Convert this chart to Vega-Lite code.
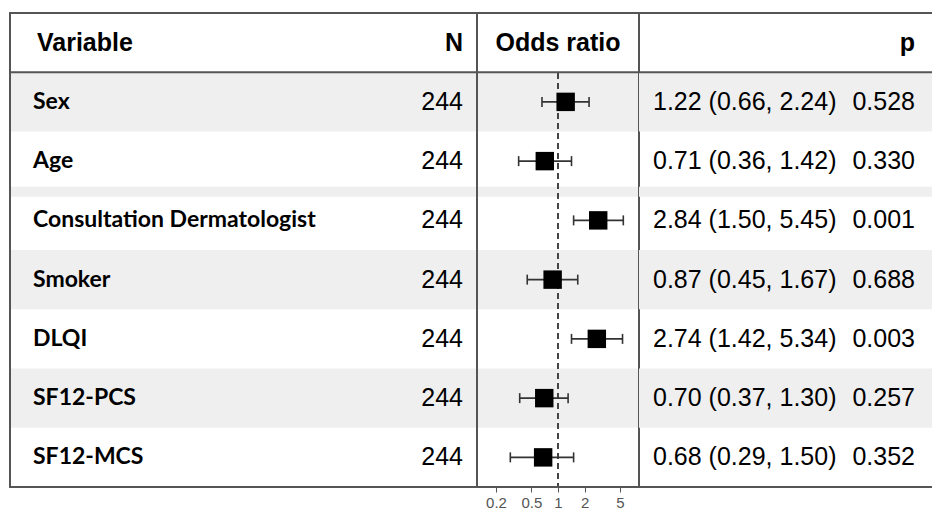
{
  "$schema": "https://vega.github.io/schema/vega-lite/v6.json",
  "padding": {"left": 9, "top": 12, "right": 0, "bottom": 0},
  "background": "white",
  "spacing": 0,
  "bounds": "flush",
  "config": {"view": {"stroke": null}},
  "data": {
    "values": [
      {"variable": "Sex", "n": 244, "or": 1.22, "lo": 0.66, "hi": 2.24, "ci": "1.22 (0.66, 2.24)", "p": "0.528"},
      {"variable": "Age", "n": 244, "or": 0.71, "lo": 0.36, "hi": 1.42, "ci": "0.71 (0.36, 1.42)", "p": "0.330"},
      {"variable": "Consultation Dermatologist", "n": 244, "or": 2.84, "lo": 1.50, "hi": 5.45, "ci": "2.84 (1.50, 5.45)", "p": "0.001"},
      {"variable": "Smoker", "n": 244, "or": 0.87, "lo": 0.45, "hi": 1.67, "ci": "0.87 (0.45, 1.67)", "p": "0.688"},
      {"variable": "DLQI", "n": 244, "or": 2.74, "lo": 1.42, "hi": 5.34, "ci": "2.74 (1.42, 5.34)", "p": "0.003"},
      {"variable": "SF12-PCS", "n": 244, "or": 0.70, "lo": 0.37, "hi": 1.30, "ci": "0.70 (0.37, 1.30)", "p": "0.257"},
      {"variable": "SF12-MCS", "n": 244, "or": 0.68, "lo": 0.29, "hi": 1.50, "ci": "0.68 (0.29, 1.50)", "p": "0.352"}
    ]
  },
  "hconcat": [
    {
      "width": 467,
      "height": 474,
      "layer": [
        {
          "transform": [{"filter": "indexof(['Sex','Smoker','SF12-PCS'], datum.variable) >= 0"}],
          "mark": {"type": "rect", "color": "#efefef"},
          "encoding": {"y": {"field": "variable", "type": "nominal", "scale": {"type": "band", "domain": ["header", "Sex", "Age", "Consultation Dermatologist", "Smoker", "DLQI", "SF12-PCS", "SF12-MCS"], "paddingInner": 0, "paddingOuter": 0}, "axis": null}}
        },
        {
          "data": {"values": [{}]},
          "mark": {"type": "rule", "color": "#efefef", "strokeWidth": 10, "yOffset": 1, "clip": true},
          "encoding": {"y": {"datum": "Consultation Dermatologist", "type": "nominal", "bandPosition": 0, "scale": {"type": "band", "domain": ["header", "Sex", "Age", "Consultation Dermatologist", "Smoker", "DLQI", "SF12-PCS", "SF12-MCS"], "paddingInner": 0, "paddingOuter": 0}, "axis": null}}
        },
        {
          "data": {"values": [{}]},
          "mark": {"type": "text", "text": "Variable", "font": "Liberation Sans", "fontWeight": "bold", "fontSize": 25, "align": "left", "baseline": "middle", "dx": 4, "color": "#000"},
          "encoding": {
            "x": {"datum": "Variable", "type": "nominal", "scale": {"type": "point", "domain": ["Variable", "N"], "padding": 0.04302, "align": 0.6216}, "axis": null},
            "y": {"datum": "header", "type": "nominal", "scale": {"type": "band", "domain": ["header", "Sex", "Age", "Consultation Dermatologist", "Smoker", "DLQI", "SF12-PCS", "SF12-MCS"], "paddingInner": 0, "paddingOuter": 0}, "axis": null}
          }
        },
        {
          "data": {"values": [{}]},
          "mark": {"type": "text", "text": "N", "font": "Liberation Sans", "fontWeight": "bold", "fontSize": 25, "align": "right", "baseline": "middle", "color": "#000"},
          "encoding": {
            "x": {"datum": "N", "type": "nominal", "scale": {"type": "point", "domain": ["Variable", "N"], "padding": 0.04302, "align": 0.6216}, "axis": null},
            "y": {"datum": "header", "type": "nominal", "scale": {"type": "band", "domain": ["header", "Sex", "Age", "Consultation Dermatologist", "Smoker", "DLQI", "SF12-PCS", "SF12-MCS"], "paddingInner": 0, "paddingOuter": 0}, "axis": null}
          }
        },
        {
          "mark": {"type": "text", "font": "Lato", "fontWeight": "bold", "fontSize": 23, "align": "left", "baseline": "middle", "color": "#000"},
          "encoding": {
            "x": {"datum": "Variable", "type": "nominal", "scale": {"type": "point", "domain": ["Variable", "N"], "padding": 0.04302, "align": 0.6216}, "axis": null},
            "y": {"field": "variable", "type": "nominal", "scale": {"type": "band", "domain": ["header", "Sex", "Age", "Consultation Dermatologist", "Smoker", "DLQI", "SF12-PCS", "SF12-MCS"], "paddingInner": 0, "paddingOuter": 0}, "axis": null},
            "text": {"field": "variable"}
          }
        },
        {
          "mark": {"type": "text", "font": "Liberation Sans", "fontSize": 25, "align": "right", "baseline": "middle", "color": "#000"},
          "encoding": {
            "x": {"datum": "N", "type": "nominal", "scale": {"type": "point", "domain": ["Variable", "N"], "padding": 0.04302, "align": 0.6216}, "axis": null},
            "y": {"field": "variable", "type": "nominal", "scale": {"type": "band", "domain": ["header", "Sex", "Age", "Consultation Dermatologist", "Smoker", "DLQI", "SF12-PCS", "SF12-MCS"], "paddingInner": 0, "paddingOuter": 0}, "axis": null},
            "text": {"field": "n"}
          }
        },
        {
          "data": {"values": [{}]},
          "mark": {"type": "rule", "color": "#555", "strokeWidth": 2},
          "encoding": {"y": {"datum": "Sex", "type": "nominal", "bandPosition": 0, "scale": {"type": "band", "domain": ["header", "Sex", "Age", "Consultation Dermatologist", "Smoker", "DLQI", "SF12-PCS", "SF12-MCS"], "paddingInner": 0, "paddingOuter": 0}, "axis": null}}
        },
        {
          "data": {"values": [{}]},
          "mark": {"type": "rect", "fill": "white", "fillOpacity": 0, "stroke": "#555", "strokeWidth": 2},
          "encoding": {}
        }
      ]
    },
    {
      "width": 162,
      "height": 474,
      "layer": [
        {
          "transform": [{"filter": "indexof(['Sex','Smoker','SF12-PCS'], datum.variable) >= 0"}],
          "mark": {"type": "rect", "color": "#efefef"},
          "encoding": {"y": {"field": "variable", "type": "nominal", "scale": {"type": "band", "domain": ["header", "Sex", "Age", "Consultation Dermatologist", "Smoker", "DLQI", "SF12-PCS", "SF12-MCS"], "paddingInner": 0, "paddingOuter": 0}, "axis": null}}
        },
        {
          "data": {"values": [{}]},
          "mark": {"type": "rule", "color": "#efefef", "strokeWidth": 10, "yOffset": 1, "clip": true},
          "encoding": {"y": {"datum": "Consultation Dermatologist", "type": "nominal", "bandPosition": 0, "scale": {"type": "band", "domain": ["header", "Sex", "Age", "Consultation Dermatologist", "Smoker", "DLQI", "SF12-PCS", "SF12-MCS"], "paddingInner": 0, "paddingOuter": 0}, "axis": null}}
        },
        {
          "data": {"values": [{}]},
          "mark": {"type": "rule", "color": "#444", "strokeWidth": 2, "strokeDash": [6, 4]},
          "encoding": {"x": {"datum": 1, "type": "quantitative", "scale": {"type": "log", "domain": [0.1221, 8.19], "nice": false}, "axis": {"values": [0.2, 0.5, 1, 2, 5], "format": "~g", "domain": false, "grid": false, "ticks": true, "tickSize": 5, "tickWidth": 1, "tickColor": "#555", "labelFont": "Liberation Sans", "labelFontSize": 15, "labelColor": "#555", "labelPadding": 3, "title": null}}}
        },
        {
          "data": {"values": [{}]},
          "mark": {"type": "rect", "color": "white"},
          "encoding": {"y": {"datum": "header", "type": "nominal", "scale": {"type": "band", "domain": ["header", "Sex", "Age", "Consultation Dermatologist", "Smoker", "DLQI", "SF12-PCS", "SF12-MCS"], "paddingInner": 0, "paddingOuter": 0}, "axis": null}}
        },
        {
          "data": {"values": [{}]},
          "mark": {"type": "text", "text": "Odds ratio", "font": "Liberation Sans", "fontWeight": "bold", "fontSize": 25, "align": "center", "baseline": "middle", "color": "#000"},
          "encoding": {
            "x": {"datum": 1, "type": "quantitative", "scale": {"type": "log", "domain": [0.1221, 8.19], "nice": false}},
            "y": {"datum": "header", "type": "nominal", "scale": {"type": "band", "domain": ["header", "Sex", "Age", "Consultation Dermatologist", "Smoker", "DLQI", "SF12-PCS", "SF12-MCS"], "paddingInner": 0, "paddingOuter": 0}, "axis": null}
          }
        },
        {
          "mark": {"type": "rule", "color": "#333", "strokeWidth": 1.6},
          "encoding": {
            "x": {"field": "lo", "type": "quantitative", "scale": {"type": "log", "domain": [0.1221, 8.19], "nice": false}},
            "x2": {"field": "hi"},
            "y": {"field": "variable", "type": "nominal", "scale": {"type": "band", "domain": ["header", "Sex", "Age", "Consultation Dermatologist", "Smoker", "DLQI", "SF12-PCS", "SF12-MCS"], "paddingInner": 0, "paddingOuter": 0}, "axis": null}
          }
        },
        {
          "mark": {"type": "tick", "orient": "vertical", "size": 10, "thickness": 1.6, "color": "#333", "opacity": 1},
          "encoding": {
            "x": {"field": "lo", "type": "quantitative", "scale": {"type": "log", "domain": [0.1221, 8.19], "nice": false}},
            "y": {"field": "variable", "type": "nominal", "scale": {"type": "band", "domain": ["header", "Sex", "Age", "Consultation Dermatologist", "Smoker", "DLQI", "SF12-PCS", "SF12-MCS"], "paddingInner": 0, "paddingOuter": 0}, "axis": null}
          }
        },
        {
          "mark": {"type": "tick", "orient": "vertical", "size": 10, "thickness": 1.6, "color": "#333", "opacity": 1},
          "encoding": {
            "x": {"field": "hi", "type": "quantitative", "scale": {"type": "log", "domain": [0.1221, 8.19], "nice": false}},
            "y": {"field": "variable", "type": "nominal", "scale": {"type": "band", "domain": ["header", "Sex", "Age", "Consultation Dermatologist", "Smoker", "DLQI", "SF12-PCS", "SF12-MCS"], "paddingInner": 0, "paddingOuter": 0}, "axis": null}
          }
        },
        {
          "mark": {"type": "point", "shape": "square", "size": 340, "filled": true, "color": "#000", "opacity": 1, "strokeWidth": 0},
          "encoding": {
            "x": {"field": "or", "type": "quantitative", "scale": {"type": "log", "domain": [0.1221, 8.19], "nice": false}},
            "y": {"field": "variable", "type": "nominal", "scale": {"type": "band", "domain": ["header", "Sex", "Age", "Consultation Dermatologist", "Smoker", "DLQI", "SF12-PCS", "SF12-MCS"], "paddingInner": 0, "paddingOuter": 0}, "axis": null}
          }
        },
        {
          "data": {"values": [{}]},
          "mark": {"type": "rule", "color": "#555", "strokeWidth": 2},
          "encoding": {"y": {"datum": "Sex", "type": "nominal", "bandPosition": 0, "scale": {"type": "band", "domain": ["header", "Sex", "Age", "Consultation Dermatologist", "Smoker", "DLQI", "SF12-PCS", "SF12-MCS"], "paddingInner": 0, "paddingOuter": 0}, "axis": null}}
        },
        {
          "data": {"values": [{}]},
          "mark": {"type": "rect", "fill": "white", "fillOpacity": 0, "stroke": "#555", "strokeWidth": 2},
          "encoding": {}
        }
      ]
    },
    {
      "width": 293,
      "height": 474,
      "layer": [
        {
          "transform": [{"filter": "indexof(['Sex','Smoker','SF12-PCS'], datum.variable) >= 0"}],
          "mark": {"type": "rect", "color": "#efefef", "xOffset": 1, "clip": true},
          "encoding": {"y": {"field": "variable", "type": "nominal", "scale": {"type": "band", "domain": ["header", "Sex", "Age", "Consultation Dermatologist", "Smoker", "DLQI", "SF12-PCS", "SF12-MCS"], "paddingInner": 0, "paddingOuter": 0}, "axis": null}}
        },
        {
          "data": {"values": [{}]},
          "mark": {"type": "rule", "color": "#efefef", "strokeWidth": 10, "yOffset": 1, "xOffset": 1, "clip": true},
          "encoding": {"y": {"datum": "Consultation Dermatologist", "type": "nominal", "bandPosition": 0, "scale": {"type": "band", "domain": ["header", "Sex", "Age", "Consultation Dermatologist", "Smoker", "DLQI", "SF12-PCS", "SF12-MCS"], "paddingInner": 0, "paddingOuter": 0}, "axis": null}}
        },
        {
          "data": {"values": [{}]},
          "mark": {"type": "text", "text": "p", "font": "Liberation Sans", "fontWeight": "bold", "fontSize": 25, "align": "right", "baseline": "middle", "color": "#000"},
          "encoding": {
            "x": {"datum": "p", "type": "nominal", "scale": {"type": "point", "domain": ["ci", "p"], "padding": 0.05916, "align": 0.4516}, "axis": null},
            "y": {"datum": "header", "type": "nominal", "scale": {"type": "band", "domain": ["header", "Sex", "Age", "Consultation Dermatologist", "Smoker", "DLQI", "SF12-PCS", "SF12-MCS"], "paddingInner": 0, "paddingOuter": 0}, "axis": null}
          }
        },
        {
          "mark": {"type": "text", "font": "Liberation Sans", "fontSize": 25, "align": "left", "baseline": "middle", "color": "#000"},
          "encoding": {
            "x": {"datum": "ci", "type": "nominal", "scale": {"type": "point", "domain": ["ci", "p"], "padding": 0.05916, "align": 0.4516}, "axis": null},
            "y": {"field": "variable", "type": "nominal", "scale": {"type": "band", "domain": ["header", "Sex", "Age", "Consultation Dermatologist", "Smoker", "DLQI", "SF12-PCS", "SF12-MCS"], "paddingInner": 0, "paddingOuter": 0}, "axis": null},
            "text": {"field": "ci"}
          }
        },
        {
          "mark": {"type": "text", "font": "Liberation Sans", "fontSize": 25, "align": "right", "baseline": "middle", "color": "#000"},
          "encoding": {
            "x": {"datum": "p", "type": "nominal", "scale": {"type": "point", "domain": ["ci", "p"], "padding": 0.05916, "align": 0.4516}, "axis": null},
            "y": {"field": "variable", "type": "nominal", "scale": {"type": "band", "domain": ["header", "Sex", "Age", "Consultation Dermatologist", "Smoker", "DLQI", "SF12-PCS", "SF12-MCS"], "paddingInner": 0, "paddingOuter": 0}, "axis": null},
            "text": {"field": "p"}
          }
        },
        {
          "data": {"values": [{}]},
          "mark": {"type": "rule", "color": "#555", "strokeWidth": 2},
          "encoding": {"y": {"datum": "header", "type": "nominal", "bandPosition": 0, "scale": {"type": "band", "domain": ["header", "Sex", "Age", "Consultation Dermatologist", "Smoker", "DLQI", "SF12-PCS", "SF12-MCS"], "paddingInner": 0, "paddingOuter": 0}, "axis": null}}
        },
        {
          "data": {"values": [{}]},
          "mark": {"type": "rule", "color": "#555", "strokeWidth": 2},
          "encoding": {"y": {"datum": "Sex", "type": "nominal", "bandPosition": 0, "scale": {"type": "band", "domain": ["header", "Sex", "Age", "Consultation Dermatologist", "Smoker", "DLQI", "SF12-PCS", "SF12-MCS"], "paddingInner": 0, "paddingOuter": 0}, "axis": null}}
        },
        {
          "data": {"values": [{}]},
          "mark": {"type": "rule", "color": "#555", "strokeWidth": 2},
          "encoding": {"y": {"datum": "SF12-MCS", "type": "nominal", "bandPosition": 1, "scale": {"type": "band", "domain": ["header", "Sex", "Age", "Consultation Dermatologist", "Smoker", "DLQI", "SF12-PCS", "SF12-MCS"], "paddingInner": 0, "paddingOuter": 0}, "axis": null}}
        }
      ]
    }
  ]
}
